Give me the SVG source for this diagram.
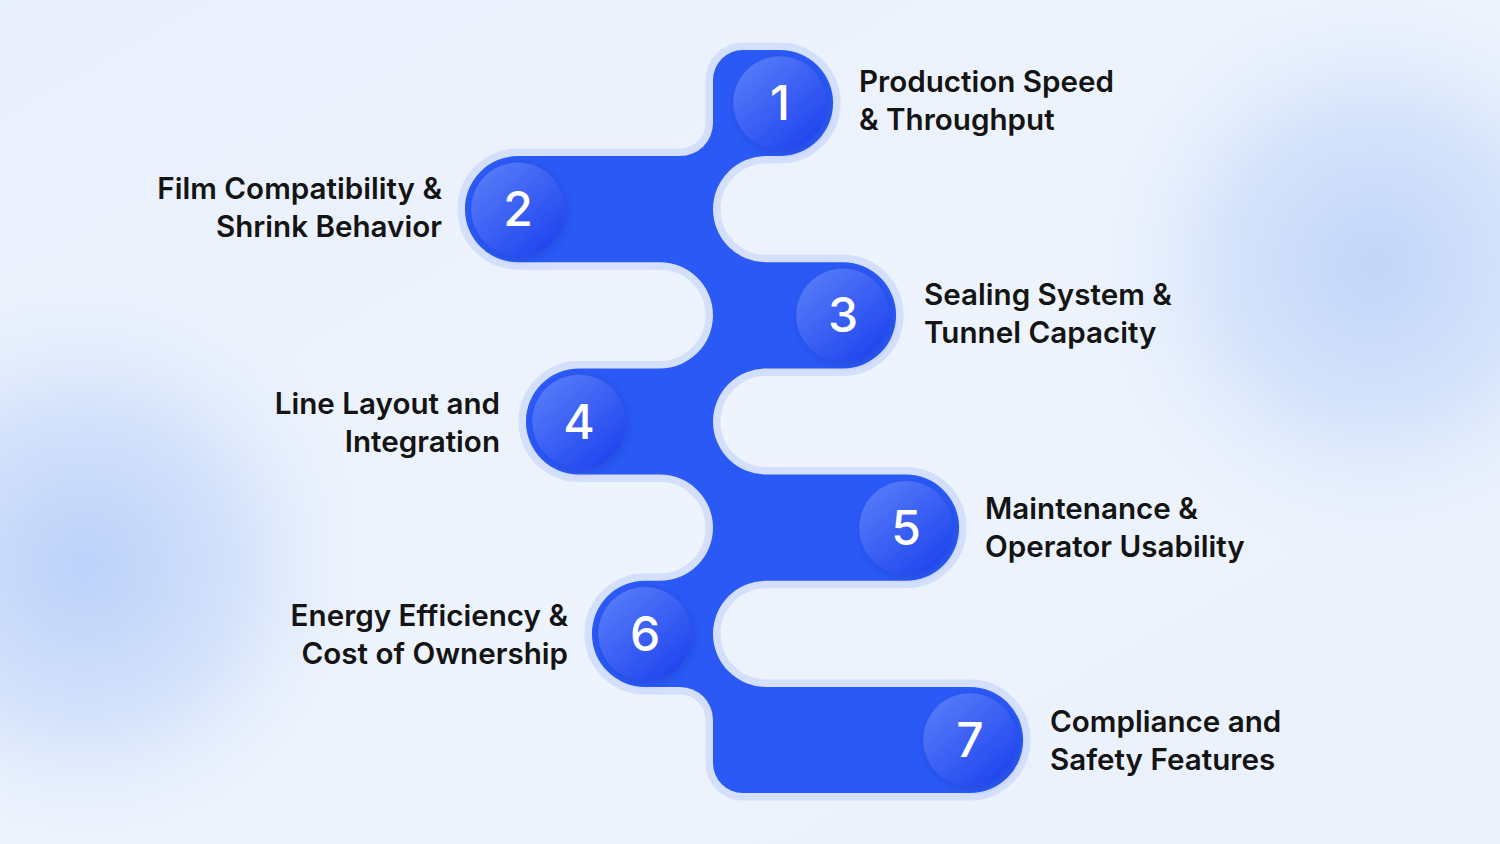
<svg xmlns="http://www.w3.org/2000/svg" width="1500" height="844" viewBox="0 0 1500 844">
  <defs>
    <radialGradient id="blobL" cx="85" cy="565" r="300" gradientUnits="userSpaceOnUse">
      <stop offset="0" stop-color="#bcd2fa"/>
      <stop offset="0.5" stop-color="#d3e1fb"/>
      <stop offset="1" stop-color="#e9f1fd" stop-opacity="0"/>
    </radialGradient>
    <radialGradient id="blobR" cx="1375" cy="265" r="300" gradientUnits="userSpaceOnUse">
      <stop offset="0" stop-color="#c2d6fa"/>
      <stop offset="0.5" stop-color="#d5e3fb"/>
      <stop offset="1" stop-color="#e9f1fd" stop-opacity="0"/>
    </radialGradient>
    <linearGradient id="bg" x1="0" y1="0" x2="1" y2="1">
      <stop offset="0" stop-color="#e8f0fc"/>
      <stop offset="0.5" stop-color="#eef4fd"/>
      <stop offset="1" stop-color="#eaf1fc"/>
    </linearGradient>
    <linearGradient id="disc" x1="0.15" y1="0.1" x2="0.85" y2="0.9">
      <stop offset="0" stop-color="#5579f8"/>
      <stop offset="1" stop-color="#2046ef"/>
    </linearGradient>
    <filter id="sh" x="-30%" y="-30%" width="160%" height="160%">
      <feDropShadow dx="2" dy="3" stdDeviation="3" flood-color="#1634b8" flood-opacity="0.35"/>
    </filter>
    <style>
      .lbl { font-family: Inter, "Liberation Sans", sans-serif; font-weight: 600; font-size: 29.6px; fill: #141414; }
      .num { font-family: Inter, "Liberation Sans", sans-serif; font-weight: 500; font-size: 48px; fill: #ffffff; text-anchor: middle; }
      .disc { fill: url(#disc); stroke: #2a4fe0; stroke-opacity: 0.35; stroke-width: 1; filter: url(#sh); }
      .end { text-anchor: end; }
    </style>
  </defs>

  <rect x="0" y="0" width="1500" height="844" fill="url(#bg)"/>
  <rect x="0" y="0" width="1500" height="844" fill="url(#blobL)"/>
  <rect x="0" y="0" width="1500" height="844" fill="url(#blobR)"/>

  <g id="connectors">
    <path id="ribbon-halo" fill="none" stroke="#d4e0fb" stroke-width="15" stroke-linejoin="round"
      d="M743,49.92 L780,49.92 A53.08,53.08 0 0 1 833.08,103 A53.08,53.08 0 0 1 780,156.08 L766.08,156.08 A53.08,53.08 0 0 0 713,209.17 A53.08,53.08 0 0 0 766.08,262.25 L843,262.25 A53.08,53.08 0 0 1 896.08,315.33 A53.08,53.08 0 0 1 843,368.42 L766.08,368.42 A53.08,53.08 0 0 0 713,421.5 A53.08,53.08 0 0 0 766.08,474.58 L906,474.58 A53.08,53.08 0 0 1 959.08,527.67 A53.08,53.08 0 0 1 906,580.75 L766.08,580.75 A53.08,53.08 0 0 0 713,633.83 A53.08,53.08 0 0 0 766.08,686.92 L970,686.92 A53.08,53.08 0 0 1 1023.08,740 A53.08,53.08 0 0 1 970,793.08 L743,793.08 A30,30 0 0 1 713,763.08 L713,719.92 A33,33 0 0 0 680,686.92 L645,686.92 A53.08,53.08 0 0 1 591.92,633.83 A53.08,53.08 0 0 1 645,580.75 L659.92,580.75 A53.08,53.08 0 0 0 713,527.67 A53.08,53.08 0 0 0 659.92,474.58 L579,474.58 A53.08,53.08 0 0 1 525.92,421.5 A53.08,53.08 0 0 1 579,368.42 L659.92,368.42 A53.08,53.08 0 0 0 713,315.33 A53.08,53.08 0 0 0 659.92,262.25 L518,262.25 A53.08,53.08 0 0 1 464.92,209.17 A53.08,53.08 0 0 1 518,156.08 L680,156.08 A33,33 0 0 0 713,123.08 L713,79.92 A30,30 0 0 1 743,49.92 Z"/>
    <path id="ribbon" fill="#2a59f5"
      d="M743,49.92 L780,49.92 A53.08,53.08 0 0 1 833.08,103 A53.08,53.08 0 0 1 780,156.08 L766.08,156.08 A53.08,53.08 0 0 0 713,209.17 A53.08,53.08 0 0 0 766.08,262.25 L843,262.25 A53.08,53.08 0 0 1 896.08,315.33 A53.08,53.08 0 0 1 843,368.42 L766.08,368.42 A53.08,53.08 0 0 0 713,421.5 A53.08,53.08 0 0 0 766.08,474.58 L906,474.58 A53.08,53.08 0 0 1 959.08,527.67 A53.08,53.08 0 0 1 906,580.75 L766.08,580.75 A53.08,53.08 0 0 0 713,633.83 A53.08,53.08 0 0 0 766.08,686.92 L970,686.92 A53.08,53.08 0 0 1 1023.08,740 A53.08,53.08 0 0 1 970,793.08 L743,793.08 A30,30 0 0 1 713,763.08 L713,719.92 A33,33 0 0 0 680,686.92 L645,686.92 A53.08,53.08 0 0 1 591.92,633.83 A53.08,53.08 0 0 1 645,580.75 L659.92,580.75 A53.08,53.08 0 0 0 713,527.67 A53.08,53.08 0 0 0 659.92,474.58 L579,474.58 A53.08,53.08 0 0 1 525.92,421.5 A53.08,53.08 0 0 1 579,368.42 L659.92,368.42 A53.08,53.08 0 0 0 713,315.33 A53.08,53.08 0 0 0 659.92,262.25 L518,262.25 A53.08,53.08 0 0 1 464.92,209.17 A53.08,53.08 0 0 1 518,156.08 L680,156.08 A33,33 0 0 0 713,123.08 L713,79.92 A30,30 0 0 1 743,49.92 Z"/>
  </g>

  <g id="node-1">
    <circle class="disc" cx="780" cy="103" r="47"/>
    <text class="num" x="780" y="120">1</text>
    <text class="lbl" x="859" y="92">Production Speed</text>
    <text class="lbl" x="859" y="130">&amp; Throughput</text>
  </g>
  <g id="node-2">
    <circle class="disc" cx="518" cy="209.2" r="47"/>
    <text class="num" x="518" y="226.2">2</text>
    <text class="lbl end" x="442" y="199">Film Compatibility &amp;</text>
    <text class="lbl end" x="442" y="237">Shrink Behavior</text>
  </g>
  <g id="node-3">
    <circle class="disc" cx="843" cy="315.3" r="47"/>
    <text class="num" x="843" y="332.3">3</text>
    <text class="lbl" x="924" y="305">Sealing System &amp;</text>
    <text class="lbl" x="924" y="343">Tunnel Capacity</text>
  </g>
  <g id="node-4">
    <circle class="disc" cx="579" cy="421.5" r="47"/>
    <text class="num" x="579" y="438.5">4</text>
    <text class="lbl end" x="500" y="414">Line Layout and</text>
    <text class="lbl end" x="500" y="452">Integration</text>
  </g>
  <g id="node-5">
    <circle class="disc" cx="906" cy="527.7" r="47"/>
    <text class="num" x="906" y="544.7">5</text>
    <text class="lbl" x="985" y="519">Maintenance &amp;</text>
    <text class="lbl" x="985" y="557">Operator Usability</text>
  </g>
  <g id="node-6">
    <circle class="disc" cx="645" cy="633.8" r="47"/>
    <text class="num" x="645" y="650.8">6</text>
    <text class="lbl end" x="568" y="626">Energy Efficiency &amp;</text>
    <text class="lbl end" x="568" y="664">Cost of Ownership</text>
  </g>
  <g id="node-7">
    <circle class="disc" cx="970" cy="740" r="47"/>
    <text class="num" x="970" y="757">7</text>
    <text class="lbl" x="1050" y="732">Compliance and</text>
    <text class="lbl" x="1050" y="770">Safety Features</text>
  </g>
</svg>
